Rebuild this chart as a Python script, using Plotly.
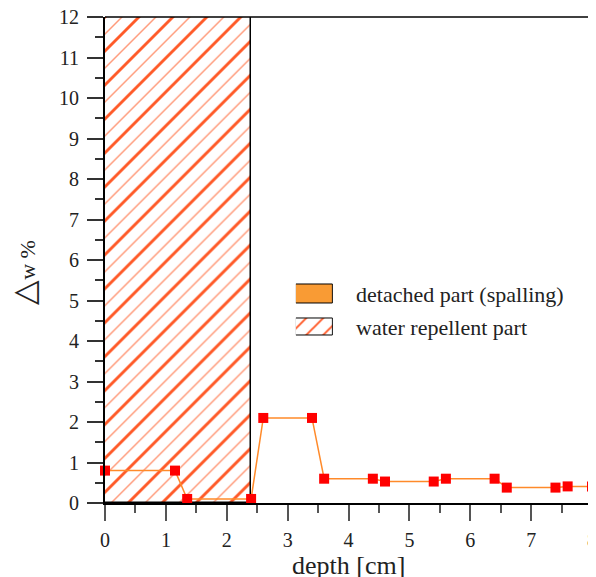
import plotly.graph_objects as go

# ---- data ----
depth = [0, 1.15, 1.35, 2.4, 2.6, 3.4, 3.6, 4.4, 4.6, 5.4, 5.6, 6.4, 6.6, 7.4, 7.6, 8.0]
delta_w = [0.8, 0.8, 0.1, 0.1, 2.1, 2.1, 0.6, 0.6, 0.53, 0.53, 0.6, 0.6, 0.38, 0.38, 0.41, 0.41]
repellent_start = 0.0
repellent_end = 2.4
repellent_top = 12
legend_labels = ["detached part (spalling)", "water repellent part"]
x_ticks = [0, 1, 2, 3, 4, 5, 6, 7, 8]
y_ticks = list(range(0, 13))

FONT = "Liberation Serif"
HATCH_THICK = "#ff5a28"
HATCH_THIN = "#ff9a7a"

fig = go.Figure()

rep_center = (repellent_start + repellent_end) / 2
rep_width = repellent_end - repellent_start

# thin hatch layer (white background)
fig.add_trace(go.Bar(
    x=[rep_center], y=[repellent_top], width=[rep_width],
    marker=dict(color="white",
                pattern=dict(shape="/", size=12, solidity=0.12, fgcolor=HATCH_THIN,
                             bgcolor="white", fillmode="replace"),
                line=dict(width=0)),
    showlegend=False, hoverinfo="skip"))
# thick hatch layer with border
fig.add_trace(go.Bar(
    x=[rep_center], y=[repellent_top], width=[rep_width],
    marker=dict(color="rgba(0,0,0,0)",
                pattern=dict(shape="/", size=24, solidity=0.12, fgcolor=HATCH_THICK,
                             bgcolor="rgba(0,0,0,0)", fillmode="replace"),
                line=dict(width=1.5, color="black")),
    showlegend=False, hoverinfo="skip"))

# measurement series
fig.add_trace(go.Scatter(
    x=depth, y=delta_w, mode="lines+markers",
    line=dict(color="#ff8a2a", width=1.5),
    marker=dict(symbol="square", size=10, color="#ff0000"),
    cliponaxis=False, showlegend=False))

# legend swatches (separate hidden axes)
fig.add_trace(go.Bar(
    x=[1], y=[1], base=[0], width=[0.6], orientation="h",
    marker=dict(color="#f99b34", line=dict(color="black", width=1)),
    xaxis="x2", yaxis="y2", showlegend=False, hoverinfo="skip"))
fig.add_trace(go.Bar(
    x=[1], y=[0], base=[0], width=[0.52], orientation="h",
    marker=dict(color="white",
                pattern=dict(shape="/", size=12, solidity=0.16, fgcolor=HATCH_THICK,
                             bgcolor="white", fillmode="replace"),
                line=dict(color="black", width=1)),
    xaxis="x2", yaxis="y2", showlegend=False, hoverinfo="skip"))

for i, lab in enumerate(legend_labels):
    fig.add_annotation(x=0.511, y=1 - i, xref="paper", yref="y2",
                       text=lab, showarrow=False, xanchor="left", yanchor="middle",
                       font=dict(family=FONT, size=22, color="#222"))

# y-axis title
fig.add_annotation(x=-0.165, y=0.475, xref="paper", yref="paper",
                   text="<span style='font-size:32px'>△</span><span style='font-size:22px'>w %</span>",
                   textangle=-90, showarrow=False, xanchor="center", yanchor="middle",
                   font=dict(family=FONT, size=22, color="#222"))
# x-axis title
fig.add_annotation(x=0.5, y=-0.128, xref="paper", yref="paper",
                   text="depth [cm]", showarrow=False, xanchor="center", yanchor="middle",
                   font=dict(family=FONT, size=26, color="#222"))

# frame (top and right)
fig.add_shape(type="line", xref="paper", yref="paper", x0=0, x1=1.008, y0=1, y1=1,
              line=dict(color="black", width=1.5))
fig.add_shape(type="line", xref="paper", yref="paper", x0=1, x1=1, y0=0, y1=1,
              line=dict(color="#808080", width=2))

fig.update_layout(
    width=588, height=569,
    margin=dict(l=97, r=4, t=9, b=74),
    plot_bgcolor="white", paper_bgcolor="white",
    barmode="overlay", bargap=0,
    font=dict(family=FONT, size=20, color="#222"),
    xaxis=dict(range=[0, 8], tickvals=x_ticks, ticks="outside", ticklen=16, tickwidth=1.5,
               tickcolor="#555", showline=True, linecolor="black", linewidth=2,
               showgrid=False, zeroline=False, ticklabelstandoff=2, automargin=False,
               ticklabeloverflow="allow", tickfont=dict(family=FONT, size=20),
               minor=dict(dtick=0.5, ticks="outside", ticklen=8, tickwidth=1.5, tickcolor="#555")),
    yaxis=dict(range=[0, 12], tickvals=y_ticks, ticks="outside", ticklen=16, tickwidth=1.5,
               tickcolor="#333", showline=True, linecolor="black", linewidth=2,
               showgrid=False, zeroline=False, ticklabelstandoff=4, automargin=False,
               ticklabeloverflow="allow", tickfont=dict(family=FONT, size=20),
               minor=dict(dtick=0.5, ticks="outside", ticklen=8, tickwidth=1.5, tickcolor="#333")),
    xaxis2=dict(domain=[0.392, 0.468], range=[0, 1], visible=False, anchor="y2", fixedrange=True),
    yaxis2=dict(domain=[0.328, 0.464], range=[-0.5, 1.5], visible=False, anchor="x2", fixedrange=True),
)

fig.write_html("out.html")
